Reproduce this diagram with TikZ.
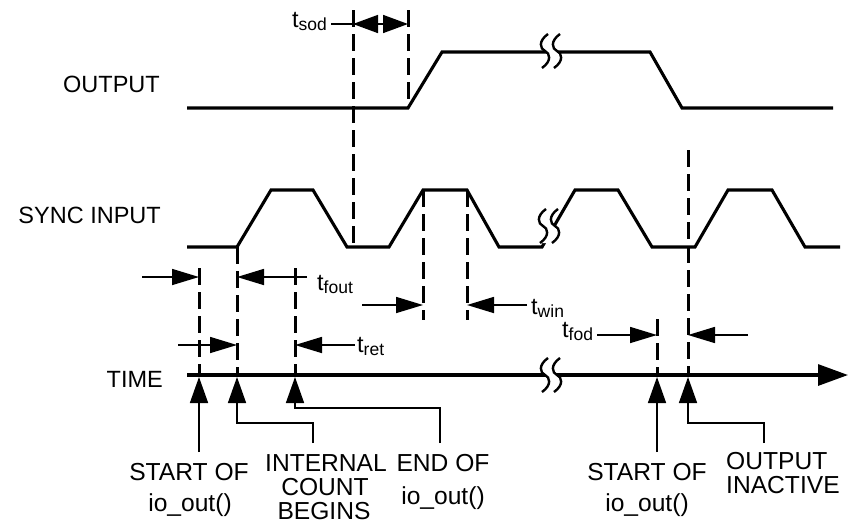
\documentclass[tikz,border=0pt]{standalone}
\usepackage{fontspec}
\setmainfont{Liberation Sans}
\usetikzlibrary{arrows.meta}
\newcommand\tlab[1]{t\raisebox{-3.5pt}{\fontsize{17.5}{17.5}\selectfont #1}}
\begin{document}
\begin{tikzpicture}[x=1pt,y=-1pt,
  wave/.style={line width=3.1pt, line join=miter},
  dsh/.style={line width=3pt, dash pattern=on 17pt off 7pt},
  thinline/.style={line width=1.6pt},
  dimarrow/.style={thinline, -{Triangle[length=27pt,width=16pt]}},
  uparrow/.style={thinline, -{Triangle[length=26pt,width=18pt]}},
  lbl/.style={font=\fontsize{23.5}{23.5}\selectfont, inner sep=0pt},
  blbl/.style={font=\fontsize{24.6}{24.6}\selectfont, inner sep=0pt, anchor=base},
  tl/.style={font=\fontsize{23.5}{23.5}\selectfont, inner sep=0pt, anchor=base west},
  brk/.pic={
    \fill[white] (-3,-17) .. controls (-13,-10) and (-11,-2) .. (-6,0) .. controls (-1,2) and (1,10) .. (-9,17) -- (3,17) .. controls (13,10) and (11,2) .. (6,0) .. controls (1,-2) and (-1,-10) .. (9,-17) -- cycle;
    \draw[line width=2.4pt] (-3,-17) .. controls (-13,-10) and (-11,-2) .. (-6,0) .. controls (-1,2) and (1,10) .. (-9,17);
    \draw[line width=2.4pt] (9,-17) .. controls (-1,-10) and (1,-2) .. (6,0) .. controls (11,2) and (13,10) .. (3,17);
  }
]
\useasboundingbox (0,0) rectangle (850,523);

% waveforms
\draw[wave] (187,108) -- (408,108) -- (442,52) -- (650,52) -- (682,108) -- (833,108);
\draw[wave] (187,247) -- (237,247) -- (271,190) -- (313,190) -- (347,247) -- (389,247) -- (423,190) -- (467,190) -- (499,247) -- (542,247) -- (575,190) -- (618,190) -- (652,247) -- (695,247) -- (728,190) -- (772,190) -- (805,247) -- (840,247);
% time axis
\draw[line width=3.1pt, -{Triangle[length=30pt,width=21pt]}] (187,375) -- (848,375);

% breaks
\pic at (551,51) {brk};
\pic at (549,226) {brk};
\pic at (551,375) {brk};

% dashed lines
\draw[dsh] (353,10) -- (353,247);
\draw[dsh] (408,10) -- (408,108);
\draw[dsh] (199,268) -- (199,375);
\draw[dsh] (237,247) -- (237,375);
\draw[dsh] (295,268) -- (295,375);
\draw[dsh] (423,190) -- (423,320);
\draw[dsh] (467,190) -- (467,320);
\draw[dsh] (657,319) -- (657,375);
\draw[dsh] (688,150) -- (688,375);

% t_sod
\node[tl] (tsod) at (292,27) {\tlab{sod}};
\coordinate (sodL) at (331,24);
\coordinate (sodA) at (353,24);
\coordinate (sodB) at (408,24);
\draw[thinline] (sodL) -- (sodA);
\draw[thinline, {Triangle[length=25pt,width=18pt]}-{Triangle[length=25pt,width=18pt]}] (sodA) -- (sodB);

% t_fout
\draw[dimarrow] (142,277) -- (199,277);
\draw[dimarrow] (307,277) -- (237,277);
\node[tl] (tfout) at (317,290) {\tlab{fout}};
% t_ret
\draw[dimarrow] (178,345) -- (237,345);
\draw[dimarrow] (355,345) -- (295,345);
\node[tl] (tret) at (357,352) {\tlab{ret}};
% t_win
\draw[dimarrow] (362,305) -- (423,305);
\draw[dimarrow] (527,305) -- (467,305);
\node[tl] (twin) at (531,314) {\tlab{win}};
% t_fod
\node[tl] (tfod) at (562,337) {\tlab{fod}};
\draw[dimarrow] (597,335) -- (657,335);
\draw[dimarrow] (748,335) -- (688,335);

% up arrows
\draw[uparrow] (199,452) -- (199,377);
\draw[uparrow] (313,443) -- (313,423) -- (237,423) -- (237,377);
\draw[uparrow] (440,443) -- (440,408) -- (295,408) -- (295,377);
\draw[uparrow] (657,452) -- (657,377);
\draw[uparrow] (764,443) -- (764,423) -- (688,423) -- (688,377);

% left labels
\node[lbl, anchor=base east] (out) at (160,92) {OUTPUT};
\node[lbl, anchor=base east] (sync) at (161,223) {SYNC INPUT};
\node[lbl, anchor=base east] (time) at (163,387) {TIME};

% bottom labels
\node[blbl] (a1) at (189,480) {START OF};
\node[blbl] (a2) at (190,511) {io\_out()};
\node[blbl] (b1) at (326,471) {INTERNAL};
\node[blbl] (b2) at (325,495) {COUNT};
\node[blbl] (b3) at (324,519) {BEGINS};
\node[blbl] (c1) at (443,471) {END OF};
\node[blbl] (c2) at (443,504) {io\_out()};
\node[blbl] (d1) at (647,480) {START OF};
\node[blbl] (d2) at (647,511) {io\_out()};
\node[blbl, anchor=base west] (e1) at (726,469) {OUTPUT};
\node[blbl, anchor=base west] (e2) at (726,493) {INACTIVE};
\end{tikzpicture}
\end{document}
